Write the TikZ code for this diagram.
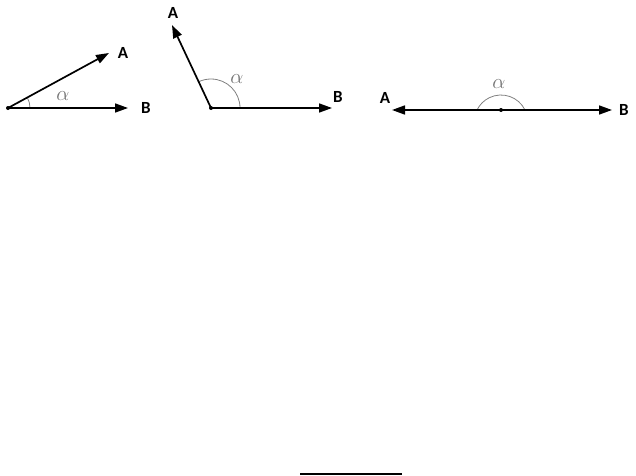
\documentclass[tikz,border=0pt]{standalone}
\usepackage{fontspec}
\newfontfamily\labfont{Carlito}
\usetikzlibrary{arrows.meta}
\tikzset{
  vec/.style={line width=1.7pt,-{Triangle[length=13pt,width=9pt]}},
  anglearc/.style={draw=black!50,line width=0.8pt},
  lab/.style={font=\labfont\bfseries\fontsize{17}{19}\selectfont,inner sep=0pt},
  alab/.style={text=black!55,font=\fontsize{21}{23}\selectfont,inner sep=0pt},
  dot/.style={circle,fill=black,inner sep=0pt,minimum size=4pt}
}
\begin{document}
\begin{tikzpicture}[x=1pt,y=1pt]
\useasboundingbox (0,0) rectangle (636,475);
% diagram 1
\coordinate (O1) at (8,367);
\coordinate (A1) at (109,422);
\coordinate (B1) at (128,367);
\draw[anglearc] (O1) ++(0:22) arc[start angle=0,end angle=28.6,radius=22];
\draw[vec] (O1) -- (A1);
\draw[vec] (O1) -- (B1);
\node[dot] (d1) at (O1) {};
\node[lab] (la1) at (123,422) {A};
\node[lab] (lb1) at (146,367) {B};
\node[alab] (al1) at (63,379) {$\alpha$};
% diagram 2
\coordinate (O2) at (211,367);
\coordinate (A2) at (172,450);
\coordinate (B2) at (332,367);
\draw[anglearc] (O2) ++(0:29) arc[start angle=0,end angle=115.2,radius=29];
\draw[vec] (O2) -- (A2);
\draw[vec] (O2) -- (B2);
\node[dot] (d2) at (O2) {};
\node[lab] (la2) at (173,462) {A};
\node[lab] (lb2) at (338,378) {B};
\node[alab] (al2) at (237,396) {$\alpha$};
% diagram 3
\coordinate (O3) at (501,365);
\coordinate (A3) at (392,365);
\coordinate (B3) at (612,365);
\draw[anglearc] (O3) ++(24,0) arc[start angle=26,end angle=154,radius=26.7];
\draw[vec] (O3) -- (A3);
\draw[vec] (O3) -- (B3);
\node[dot] (d3) at (O3) {};
\node[lab] (la3) at (385,377) {A};
\node[lab] (lb3) at (624,365) {B};
\node[alab] (al3) at (499,391) {$\alpha$};
% bottom line
\coordinate (L1) at (300,1);
\coordinate (L2) at (402,1);
\draw[line width=1.2pt] (L1) -- (L2);
\end{tikzpicture}
\end{document}
